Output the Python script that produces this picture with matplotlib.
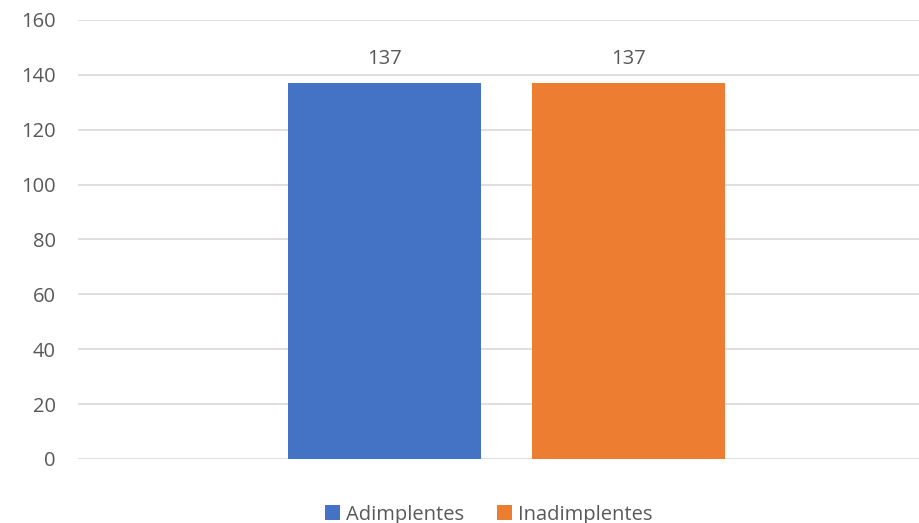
import matplotlib.pyplot as plt

# dados
series = ["Adimplentes", "Inadimplentes"]
values = [137, 137]
colors = ["#4472C4", "#ED7D31"]
yticks = [0, 20, 40, 60, 80, 100, 120, 140, 160]

plt.rcParams["font.family"] = ["Open Sans", "DejaVu Sans"]
txt = "#595959"

fig = plt.figure(figsize=(9.19, 5.23), dpi=100)
ax = fig.add_axes([0.085, 0.1224, 0.915, 0.8394])

w = 0.2295
offs = [-0.145, 0.145]
for s, v, c, o in zip(series, values, colors, offs):
    ax.bar(o, v, width=w, color=c, label=s, zorder=3)
    ax.text(o, v + 5, str(v), ha="center", va="bottom", fontsize=14.5, color=txt)

ax.set_xlim(-0.5095, 0.4905)
ax.set_ylim(0, 160)
ax.set_yticks(yticks)
ax.set_xticks([])
ax.grid(axis="y", color="#D9D9D9", linewidth=1.2, zorder=0)
ax.tick_params(axis="y", length=0, labelsize=14.5, labelcolor=txt, pad=16)
for sp in ax.spines.values():
    sp.set_visible(False)

ax.legend(loc="center", bbox_to_anchor=(0.532, 0.016), bbox_transform=fig.transFigure,
          ncol=2, frameon=False, fontsize=14.5, labelcolor=txt, handlelength=0.75,
          handleheight=0.75, handletextpad=0.3, columnspacing=1.6)

fig.savefig("out.png", dpi=100)
